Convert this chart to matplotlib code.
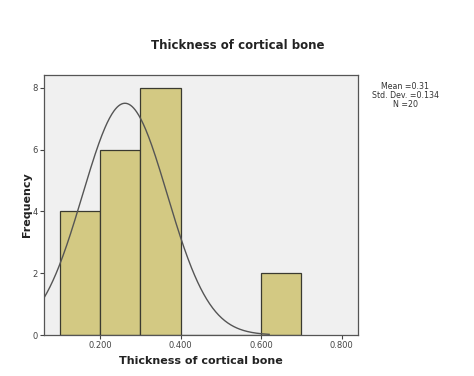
import numpy as np
import matplotlib.pyplot as plt

bin_edges = [0.1, 0.2, 0.3, 0.4, 0.5, 0.6, 0.7]
counts = [4, 6, 8, 0, 0, 2]
x_ticks = [0.2, 0.4, 0.6, 0.8]
x_ticklabels = ["0.200", "0.400", "0.600", "0.800"]
y_ticks = [0, 2, 4, 6, 8]
# fitted curve as drawn in the reference
curve_mean = 0.262
curve_sd = 0.105
curve_peak = 7.5
stats_text = "Mean =0.31\nStd. Dev. =0.134\nN =20"

fig = plt.figure(figsize=(4.74, 3.76), dpi=100)
ax = fig.add_axes([0.0928, 0.109, 0.662, 0.692])
ax.set_facecolor("#f0f0f0")

lefts = bin_edges[:-1]
widths = np.diff(bin_edges)
ax.bar(lefts, counts, width=widths, align="edge", color="#d3c983",
       edgecolor="#3a3a30", linewidth=0.9, zorder=2)

xs = np.linspace(0.061, 0.62, 300)
ys = curve_peak * np.exp(-(xs - curve_mean) ** 2 / (2 * curve_sd ** 2))
ax.plot(xs, ys, color="#555555", linewidth=1.0, zorder=3)

ax.set_xlim(0.061, 0.84)
ax.set_ylim(0, 8.42)
ax.set_xticks(x_ticks)
ax.set_xticklabels(x_ticklabels)
ax.set_yticks(y_ticks)
ax.tick_params(axis="both", labelsize=6, colors="#444444", length=3, width=0.8)
ax.tick_params(axis="y", pad=1.5)
ax.tick_params(axis="x", pad=1.5)
for s in ax.spines.values():
    s.set_color("#555555")
    s.set_linewidth(0.9)

ax.set_xlabel("Thickness of cortical bone", fontsize=8, fontweight="bold",
              color="#222222", labelpad=4)
ax.set_ylabel("Frequency", fontsize=8, fontweight="bold", color="#222222",
              labelpad=0)
fig.text(0.502, 0.88, "Thickness of cortical bone", ha="center", va="center",
         fontsize=8.5, fontweight="bold", color="#222222")
fig.text(0.855, 0.745, stats_text, ha="center", va="center", fontsize=5.7,
         color="#333333", linespacing=1.0)

fig.savefig("out.png", dpi=100, facecolor="white")
